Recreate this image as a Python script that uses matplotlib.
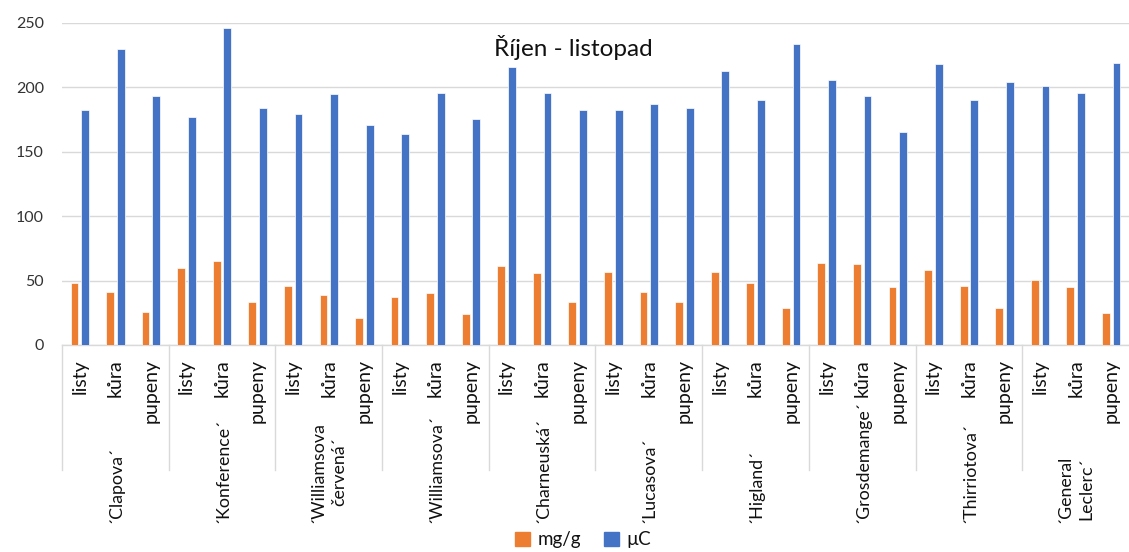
import matplotlib
matplotlib.use("Agg")
import numpy as np
import matplotlib.pyplot as plt
import matplotlib.transforms as mtransforms
from matplotlib.patches import Patch
from matplotlib.lines import Line2D

plt.rcParams['font.family'] = ['Lato', 'Noto Sans', 'DejaVu Sans']

# odrůdy a části rostliny
odrudy = ['´Clapova´', '´Konference´', '´Williamsova\nčervená´', '´Williamsova´',
          '´Charneuská´', '´Lucasova´', '´Higland´', '´Grosdemange´',
          '´Thirriotova´', '´General\nLeclerc´']
casti = ['listy', 'kůra', 'pupeny']

mg_g = [48, 41, 26, 60, 65.5, 33, 46, 39, 21, 37, 40, 24, 61, 56, 33,
        57, 41, 33, 57, 48, 28.5, 64, 63, 45, 58.5, 46, 28.5, 50.5, 45, 25]
uC = [182.5, 229.5, 193, 177, 246.5, 184, 179, 195, 171, 164, 196, 175.5, 215.5, 196, 182.5,
      182.5, 187, 184, 212.5, 190.5, 234, 205.5, 193, 165, 218, 190.5, 204.5, 201, 196, 219]

W, H = 1129, 552
fig = plt.figure(figsize=(W / 100, H / 100), dpi=100)
ax = fig.add_axes([62 / W, 1 - 345 / H, 1 - 62 / W, (345 - 23) / H])

n = len(mg_g)
x = np.arange(n)
sirka = 0.22
ax.bar(x - 0.15, mg_g, sirka, color='#ED7D31', edgecolor='white', linewidth=0.5, zorder=3)
ax.bar(x + 0.15, uC, sirka, color='#4472C4', edgecolor='white', linewidth=0.5, zorder=3)

ax.set_xlim(-0.5, n - 0.5)
ax.set_ylim(0, 250)
ax.set_yticks([0, 50, 100, 150, 200, 250])
ax.grid(axis='y', color='#d9d9d9', linewidth=1, zorder=0)
ax.set_axisbelow(True)
for s in ['top', 'right', 'left']:
    ax.spines[s].set_visible(False)
ax.spines['bottom'].set_color('#d9d9d9')
ax.spines['bottom'].set_linewidth(1)
ax.set_xticks([])
ax.tick_params(axis='y', length=0, pad=13, labelsize=11.5, labelcolor='#333333')

# popisky kategorií pod osou
tr = mtransforms.blended_transform_factory(ax.transData, fig.transFigure)
for i in range(n):
    ax.text(i, 1 - 359 / H, casti[i % 3], transform=tr, rotation=90,
            ha='center', va='top', fontsize=14, color='#111111')
for g, nazev in enumerate(odrudy):
    ax.text(3 * g + 1, 1 - 523 / H, nazev, transform=tr, rotation=90,
            ha='center', va='bottom', fontsize=12.8, color='#111111',
            multialignment='center', linespacing=1.45)
    ax.add_line(Line2D([3 * g - 0.5, 3 * g - 0.5], [1 - 345 / H, 1 - 470 / H],
                       transform=tr, color='#d9d9d9', linewidth=1, clip_on=False))

fig.text(573 / W, 1 - 47 / H, 'Říjen - listopad', ha='center', va='center',
         fontsize=17.5, color='#111111')

fig.legend(handles=[Patch(color='#ED7D31', label='mg/g'), Patch(color='#4472C4', label='µC')],
           loc='center', bbox_to_anchor=(583 / W, 1 - 540 / H), ncol=2, frameon=False,
           fontsize=13.5, handlelength=0.8, handleheight=0.8, handletextpad=0.4,
           columnspacing=1.2, labelcolor='#111111')

fig.savefig('out.png', dpi=100)
